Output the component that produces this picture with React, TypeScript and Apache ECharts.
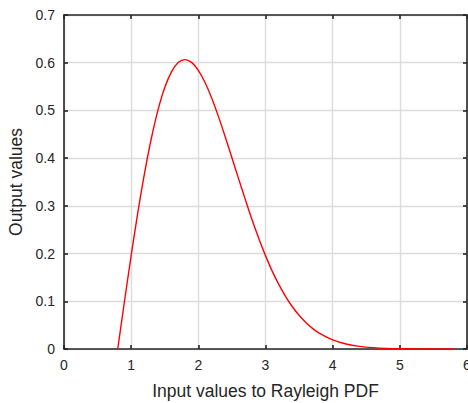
import React, { useEffect, useRef } from "react";
import * as echarts from "echarts";

const xValues = [
  0.8, 0.9, 1.0, 1.1, 1.2, 1.3, 1.4, 1.5, 1.6, 1.7, 1.8, 1.9, 2.0, 2.1, 2.2, 2.3,
  2.4, 2.5, 2.6, 2.7, 2.8, 2.9, 3.0, 3.1, 3.2, 3.3, 3.4, 3.5, 3.6, 3.7, 3.8,
  4.0, 4.2, 4.4, 4.6, 4.8, 5.0, 5.2, 5.4, 5.6, 5.8,
];
const yValues = [
  0, 0.0995, 0.196, 0.2868, 0.3692, 0.4412, 0.5012, 0.548, 0.5809, 0.6003, 0.6065,
  0.6007, 0.5841, 0.5585, 0.5257, 0.487, 0.4448, 0.4008, 0.3565, 0.3131, 0.2707,
  0.2316, 0.1957, 0.1633, 0.1348, 0.1098, 0.0885, 0.0706, 0.0556, 0.0433, 0.0333,
  0.0191, 0.0105, 0.0055, 0.0028, 0.0013, 0.0006, 0.0003, 0.0001, 0.00005, 0.00002,
];
const xTicks = [0, 1, 2, 3, 4, 5, 6];
const yTicks = [0, 0.1, 0.2, 0.3, 0.4, 0.5, 0.6, 0.7];

const FONT = "Liberation Sans, Arial, Helvetica, sans-serif";
const AX = "#262626";

export default function App() {
  const ref = useRef<HTMLDivElement>(null);
  useEffect(() => {
    if (!ref.current) return;
    const chart = echarts.init(ref.current, undefined, { renderer: "svg" });
    const baseAxis = {
      axisLine: { show: true, onZero: false, lineStyle: { color: AX, width: 1.6 } },
      axisTick: { show: true, inside: true, length: 4, lineStyle: { color: AX, width: 1.6 } },
      splitLine: { show: false },
    };
    const grid = { show: true, lineStyle: { color: "#dcdcdc", width: 1.4 } };
    chart.setOption({
      animation: false,
      backgroundColor: "#ffffff",
      grid: { left: 64, top: 15, right: 1, bottom: 54, containLabel: false, outerBoundsMode: "none" },
      xAxis: [
        {
          ...baseAxis,
          type: "value",
          min: xTicks[0],
          max: xTicks[xTicks.length - 1],
          interval: 1,
          position: "bottom",
          splitLine: grid,
          axisLabel: { color: AX, fontSize: 14, fontFamily: FONT, margin: 9 },
          name: "Input values to Rayleigh PDF",
          nameLocation: "middle",
          nameGap: 33,
          nameTextStyle: { color: AX, fontSize: 17.5, fontFamily: FONT },
        },
        {
          ...baseAxis,
          type: "value",
          min: xTicks[0],
          max: xTicks[xTicks.length - 1],
          interval: 1,
          position: "top",
          axisLabel: { show: false },
          z: 10,
        },
      ],
      yAxis: [
        {
          ...baseAxis,
          type: "value",
          min: yTicks[0],
          max: yTicks[yTicks.length - 1],
          interval: 0.1,
          position: "left",
          splitLine: grid,
          axisLabel: {
            color: AX,
            fontSize: 14,
            fontFamily: FONT,
            margin: 9,
            formatter: (v: number) => (Math.round(v * 10) / 10).toString(),
          },
          name: "Output values",
          nameLocation: "middle",
          nameGap: 34,
          nameTextStyle: { color: AX, fontSize: 17.5, fontFamily: FONT },
        },
        {
          ...baseAxis,
          type: "value",
          min: yTicks[0],
          max: yTicks[yTicks.length - 1],
          interval: 0.1,
          position: "right",
          axisLabel: { show: false },
          z: 10,
        },
      ],
      series: [
        {
          type: "line",
          data: xValues.map((x, i) => [x, yValues[i]]),
          showSymbol: false,
          smooth: 0.3,
          lineStyle: { color: "#ff0000", width: 1.4 },
          itemStyle: { color: "#ff0000" },
          z: 3,
        },
      ],
    });
    return () => chart.dispose();
  }, []);
  return <div ref={ref} style={{ width: 468, height: 403, position: "absolute", left: 0, top: 0 }} />;
}
